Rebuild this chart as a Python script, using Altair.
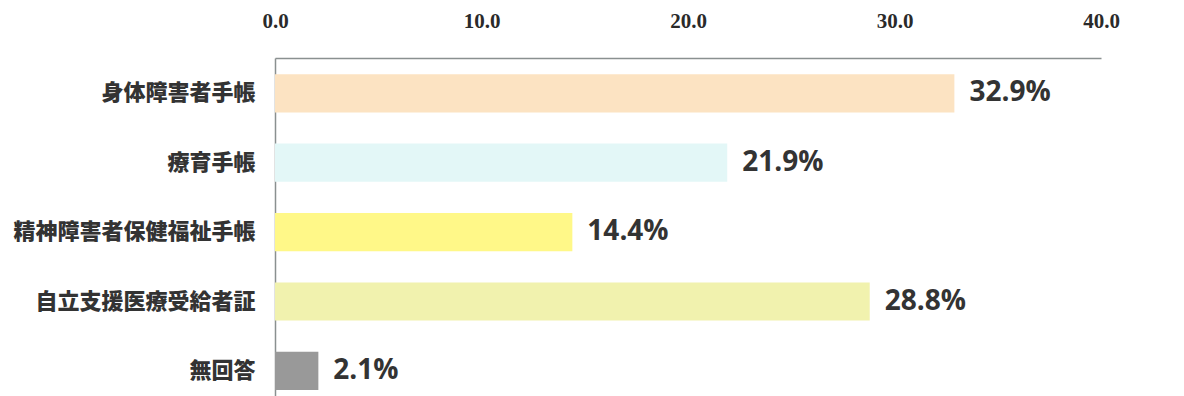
import altair as alt
import pandas as pd

categories = ["身体障害者手帳", "療育手帳", "精神障害者保健福祉手帳", "自立支援医療受給者証", "無回答"]
values = [32.9, 21.9, 14.4, 28.8, 2.1]
colors = ["#FCE3C2", "#E3F7F7", "#FFF888", "#F1F2AE", "#999999"]
tick_values = [0, 10, 20, 30, 40]

df = pd.DataFrame({"cat": categories, "val": values, "color": colors})
df["label"] = [f"{v:.1f}%" for v in values]

x = alt.X(
    "val:Q",
    scale=alt.Scale(domain=[0, 40], nice=False, zero=True),
    axis=alt.Axis(
        orient="top", values=tick_values, format=".1f", title=None, grid=False,
        ticks=False, labelPadding=27, labelFont="Liberation Serif", labelFontSize=21,
        labelFontWeight="bold", labelColor="#2a2a2a", domainColor="#8A9090",
        domainWidth=1.5, labelFlush=False,
    ),
)
y = alt.Y(
    "cat:N",
    sort=categories,
    scale=alt.Scale(paddingInner=0.45, paddingOuter=0.16, align=0.73),
    axis=alt.Axis(
        title=None, ticks=False, labelPadding=20, labelFont="Noto Sans CJK JP",
        labelFontSize=22, labelFontWeight=900, labelColor="#333333",
        labelLimit=400, domainColor="#8A9090", domainWidth=1.5,
    ),
)

bars = alt.Chart(df).mark_bar(cornerRadius=0).encode(
    x=x, y=y, color=alt.Color("color:N", scale=None)
)
text = alt.Chart(df).mark_text(
    align="left", baseline="middle", dx=15, font="Open Sans", fontSize=28,
    fontWeight="bold", color="#333333",
).encode(x="val:Q", y=alt.Y("cat:N", sort=categories), text="label:N")

chart = (bars + text).properties(
    width=826, height=338,
    autosize=alt.AutoSizeParams(type="none"),
    padding={"left": 275, "top": 58, "right": 83, "bottom": 0},
    background="white",
).configure_view(stroke=None)

chart.save("out.html", embed_options={"renderer": "svg", "actions": False})
